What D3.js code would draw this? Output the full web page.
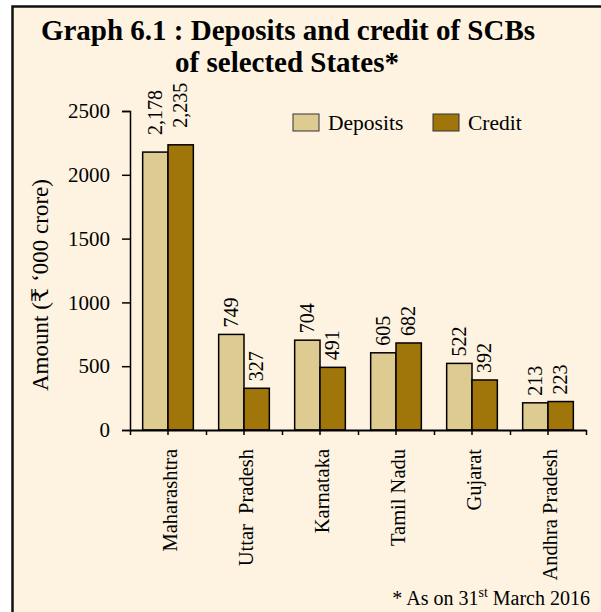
<!DOCTYPE html>
<html>
  <head>
    <meta charset="utf-8" />
    <title>Graph 6.1</title>
    <script src="https://d3js.org/d3.v7.min.js"></script>
    <style>
      body { margin: 0; background: #ffffff; }
      svg text { font-family: "Liberation Serif", "DejaVu Serif", serif; fill: #000; }
    </style>
  </head>
  <body>
    <svg id="chart" width="601" height="612"></svg>
  </body>
  <script>
    // data
    var states = ["Maharashtra", "Uttar  Pradesh", "Karnataka", "Tamil Nadu", "Gujarat", "Andhra Pradesh"];
    var series = ["Deposits", "Credit"];
    var deposits = [2178, 749, 704, 605, 522, 213];
    var credit = [2235, 327, 491, 682, 392, 223];
    var yTicks = [0, 500, 1000, 1500, 2000, 2500];

    var colors = { "Deposits": "#decb91", "Credit": "#a0760b" };

    var svg = d3.select("#chart");

    // panel background + border (top and left edges only visible)
    svg.append("rect")
      .attr("x", 12.5).attr("y", 6.5)
      .attr("width", 620).attr("height", 640)
      .attr("fill", "#fdf3e0")
      .attr("stroke", "#111").attr("stroke-width", 2.5);

    // title
    var title = svg.append("text")
      .attr("text-anchor", "middle")
      .style("font-size", "29px")
      .style("font-weight", "bold");
    title.append("tspan").attr("x", 288).attr("y", 40).text("Graph 6.1 : Deposits and credit of SCBs");
    title.append("tspan").attr("x", 287).attr("y", 72).text("of selected States*");

    // scales
    var x0 = d3.scaleBand().domain(states).range([130, 586]).padding(0);
    var x1 = d3.scaleBand().domain(series).range([0, x0.bandwidth()]).paddingOuter(0.5).paddingInner(0);
    var y = d3.scaleLinear().domain([0, 2500]).range([430, 111]);
    var xIdx = d3.scaleLinear().domain([0, states.length]).range([130, 586]);

    // y axis
    var yAxis = svg.append("g")
      .attr("transform", "translate(130,0)")
      .call(d3.axisLeft(y).tickValues(yTicks).tickSize(8).tickFormat(d3.format("d")));
    yAxis.select(".domain").attr("stroke", "#000").attr("stroke-width", 1.5);
    yAxis.selectAll(".tick line").attr("stroke", "#000").attr("stroke-width", 1.5);
    yAxis.selectAll(".tick text")
      .attr("x", -20)
      .style("font-family", "Liberation Serif")
      .style("font-size", "21px");

    svg.append("text")
      .attr("transform", "translate(48,285) rotate(-90)")
      .attr("text-anchor", "middle")
      .style("font-size", "23px")
      .text("Amount (₹ \u2018000 crore)");

    // bars
    var rows = states.map(function(s, i) {
      return { state: s, values: [
        { key: "Deposits", v: deposits[i] },
        { key: "Credit", v: credit[i] }
      ] };
    });

    var groups = svg.selectAll(".grp")
      .data(rows)
      .enter().append("g")
      .attr("class", "grp")
      .attr("transform", function(d) { return "translate(" + x0(d.state) + ",0)"; });

    groups.selectAll("rect")
      .data(function(d) { return d.values; })
      .enter().append("rect")
      .attr("x", function(d) { return x1(d.key); })
      .attr("width", x1.bandwidth())
      .attr("y", function(d) { return y(d.v); })
      .attr("height", function(d) { return y(0) - y(d.v); })
      .attr("fill", function(d) { return colors[d.key]; })
      .attr("stroke", "#000")
      .attr("stroke-width", 1.5);

    groups.selectAll(".lbl")
      .data(function(d) { return d.values; })
      .enter().append("text")
      .attr("class", "lbl")
      .attr("transform", function(d) {
        var gap = d.v >= 1000 ? 17 : 7;
        return "translate(" + (x1(d.key) + x1.bandwidth() / 2) + "," + (y(d.v) - gap) + ") rotate(-90)";
      })
      .attr("dy", "0.34em")
      .style("font-size", "20px")
      .text(function(d) { return d3.format(",")(d.v); });

    // x axis: baseline, ticks at centres and boundaries
    var xAxis = svg.append("g")
      .attr("transform", "translate(0,430)")
      .call(d3.axisBottom(x0).tickSize(5).tickFormat(""));
    xAxis.select(".domain").remove();
    xAxis.selectAll(".tick line").attr("stroke", "#000").attr("stroke-width", 1.5);

    var xBounds = svg.append("g")
      .attr("transform", "translate(0,430)")
      .call(d3.axisBottom(xIdx).ticks(states.length).tickSize(5).tickFormat("").tickSizeOuter(0));
    xBounds.select(".domain").attr("stroke", "#000").attr("stroke-width", 2);
    xBounds.selectAll(".tick line").attr("stroke", "#000").attr("stroke-width", 1.5);

    svg.selectAll(".cat")
      .data(states)
      .enter().append("text")
      .attr("class", "cat")
      .attr("transform", function(d) { return "translate(" + (x0(d) + x0.bandwidth() / 2 + 2) + ",449) rotate(-90)"; })
      .attr("text-anchor", "end")
      .attr("dy", "0.34em")
      .style("font-size", "20.5px")
      .style("white-space", "pre")
      .text(function(d) { return d; });

    // legend
    var legendX = [293, 433];
    var leg = svg.selectAll(".leg")
      .data(series)
      .enter().append("g")
      .attr("class", "leg")
      .attr("transform", function(d, i) { return "translate(" + legendX[i] + ",114)"; });
    leg.append("rect")
      .attr("width", 26).attr("height", 17)
      .attr("fill", function(d) { return colors[d]; })
      .attr("stroke", "#333").attr("stroke-width", 1);
    leg.append("text")
      .attr("x", 35).attr("y", 16)
      .style("font-size", "21.5px")
      .text(function(d) { return d; });

    // footnote
    var foot = svg.append("text")
      .attr("x", 590).attr("y", 605)
      .attr("text-anchor", "end")
      .style("font-size", "20px");
    foot.append("tspan").text("* As on 31");
    foot.append("tspan").attr("dy", -8).style("font-size", "14px").text("st");
    foot.append("tspan").attr("dy", 8).text(" March 2016");
  </script>
</html>
